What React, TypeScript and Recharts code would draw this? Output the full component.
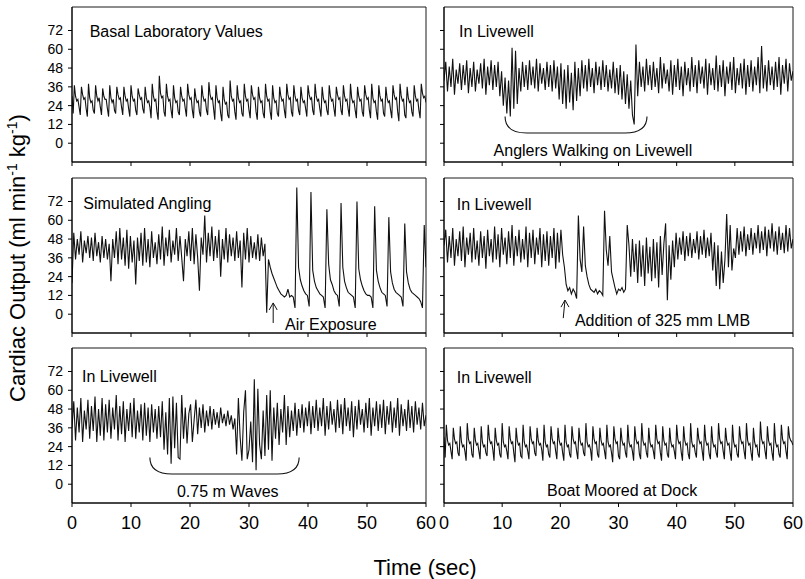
import React from "react";
import { LineChart, Line, XAxis, YAxis, ReferenceArea } from "recharts";

// time axis (sec) and output axis ticks
const timeTicks = [0, 10, 20, 30, 40, 50, 60];
const outputTicks = [0, 12, 24, 36, 48, 60, 72];
const outputDomain = [-12, 87];

// sampling step (sec) of the traced traces
const slowStep = 0.2;
const fastStep = 0.3;

// Basal laboratory values (six samples per beat)
const basalValues = [
  30,
  19, 37, 30, 27, 28, 23, 18, 36, 31, 28, 29, 22, 17, 38, 29, 26, 27, 21,
  19, 37, 30, 27, 29, 23, 18, 35, 30, 28, 28, 22, 17, 37, 29, 26, 28, 21,
  19, 36, 31, 28, 29, 23, 18, 36, 30, 27, 28, 22, 17, 37, 30, 27, 28, 21,
  18, 35, 31, 28, 29, 22, 19, 36, 29, 26, 27, 23, 16, 38, 30, 27, 28, 20,
  15, 43, 32, 29, 30, 20, 17, 38, 30, 27, 28, 21, 16, 37, 29, 26, 27, 20,
  18, 36, 30, 27, 28, 22, 17, 38, 31, 28, 29, 21, 16, 35, 29, 26, 27, 20,
  17, 37, 30, 27, 28, 21, 18, 39, 31, 28, 29, 22, 15, 37, 29, 26, 27, 19,
  14, 36, 28, 25, 26, 18, 16, 40, 30, 27, 28, 20, 15, 37, 29, 26, 27, 19,
  17, 38, 30, 27, 28, 21, 16, 37, 31, 28, 29, 20, 15, 36, 29, 26, 27, 19,
  16, 38, 30, 27, 28, 20, 15, 37, 29, 26, 27, 19, 17, 36, 30, 27, 28, 21,
  16, 38, 31, 28, 29, 20, 17, 37, 30, 27, 28, 21, 18, 36, 29, 26, 27, 22,
  17, 37, 31, 28, 29, 21, 18, 38, 30, 27, 28, 22, 17, 36, 29, 26, 27, 21,
  18, 37, 30, 27, 28, 22, 17, 36, 31, 28, 29, 21, 18, 37, 30, 27, 28, 22,
  17, 38, 29, 26, 27, 21, 16, 36, 30, 27, 28, 20, 17, 37, 31, 28, 29, 21,
  16, 38, 29, 26, 27, 20, 15, 37, 30, 27, 28, 19, 17, 36, 29, 26, 27, 21,
  16, 37, 31, 28, 29, 20, 14, 38, 30, 27, 28, 18, 16, 36, 29, 26, 27, 20,
  17, 37, 30, 27, 28, 21, 16, 38, 32, 29, 30, 26,
];

// In livewell, anglers walking on livewell
const anglersValues = [
  40, 52, 33, 49, 36, 54, 31, 47, 38, 51,
  34, 50, 37, 53, 32, 48, 36, 52, 33, 47,
  38, 51, 35, 54, 31, 49, 37, 53, 34, 50,
  36, 52, 30, 46, 24, 42, 19, 40, 17, 61,
  22, 59, 25, 48, 33, 52, 36, 50, 34, 53,
  37, 49, 35, 54, 33, 51, 38, 48, 34, 52,
  36, 50, 33, 53, 35, 49, 28, 51, 25, 47,
  22, 50, 26, 45, 21, 52, 27, 48, 30, 53,
  35, 50, 33, 54, 36, 48, 32, 52, 37, 49,
  34, 53, 36, 50, 33, 47, 35, 52, 32, 48,
  31, 50, 28, 46, 25, 44, 22, 40, 18, 12,
  63, 30, 52, 36, 49, 33, 54, 37, 50, 34,
  52, 36, 48, 32, 55, 35, 51, 38, 47, 33,
  53, 31, 50, 36, 54, 34, 49, 30, 52, 37,
  48, 33, 55, 36, 50, 32, 53, 38, 49, 35,
  54, 31, 51, 37, 48, 34, 56, 33, 50, 36,
  53, 30, 49, 38, 52, 34, 55, 32, 48, 37,
  51, 35, 54, 31, 50, 36, 53, 33, 49, 37,
  55, 32, 62, 35, 50, 33, 53, 37, 49, 34,
  52, 36, 55, 31, 50, 38, 54, 33, 51, 40,
  46,
];

// Simulated angling, then air exposure
const anglingValues = [
  20, 52, 35, 48, 38, 53, 33, 47, 39, 50,
  36, 49, 34, 52, 37, 46, 33, 50, 36, 48,
  35, 45, 21, 48, 36, 53, 32, 55, 35, 49,
  31, 54, 29, 50, 33, 47, 19, 49, 34, 52,
  31, 55, 33, 48, 30, 53, 36, 46, 32, 51,
  35, 56, 31, 49, 37, 54, 33, 47, 38, 55,
  34, 50, 36, 21, 48, 37, 53, 34, 55, 32,
  51, 36, 15, 49, 38, 63, 33, 52, 37, 56,
  34, 50, 36, 54, 24, 48, 35, 55, 33, 51,
  37, 49, 34, 53, 36, 47, 17, 52, 35, 55,
  33, 50, 36, 46, 35, 51, 34, 49, 37, 45,
  1, 35, 30, 26, 23, 20, 17, 15, 13, 12,
  11, 12, 16, 11, 12, 11, 4, 81, 30, 22,
  18, 15, 13, 12, 5, 78, 28, 21, 17, 15,
  13, 12, 11, 4, 67, 32, 22, 19, 15, 13,
  12, 5, 71, 30, 21, 17, 14, 13, 12, 11,
  4, 72, 29, 22, 18, 15, 13, 12, 12, 11,
  4, 69, 28, 21, 17, 14, 13, 12, 5, 62,
  27, 20, 16, 14, 13, 12, 11, 5, 58, 27,
  20, 16, 14, 13, 12, 11, 10, 8, 4, 57,
  30,
];

// In livewell, addition of 325 mm LMB
const lmbValues = [
  44, 54, 33, 50, 36, 55, 31, 48, 37, 53,
  34, 56, 30, 49, 38, 52, 33, 55, 35, 47,
  31, 53, 36, 50, 29, 54, 37, 48, 33, 56,
  35, 51, 30, 55, 38, 49, 32, 53, 36, 57,
  31, 50, 37, 54, 33, 48, 35, 56, 30, 52,
  36, 54, 32, 49, 38, 55, 30, 51, 34, 53,
  31, 50, 36, 55, 29, 52, 33, 54, 38, 30,
  19, 15, 17, 13, 16, 14, 10, 63, 35, 27,
  56, 31, 24, 19, 16, 15, 14, 16, 13, 15,
  14, 12, 66, 41, 31, 50, 27, 22, 17, 13,
  16, 15, 17, 14, 16, 57, 44, 24, 48, 27,
  45, 20, 47, 24, 44, 18, 49, 26, 43, 21,
  48, 23, 46, 17, 50, 25, 45, 58, 9, 44,
  22, 47, 30, 52, 35, 49, 38, 53, 34, 50,
  37, 52, 36, 48, 39, 53, 35, 50, 38, 54,
  36, 49, 37, 52, 28, 46, 18, 44, 16, 40,
  20, 35, 64, 30, 57, 28, 42, 36, 55, 38,
  53, 40, 56, 37, 51, 41, 55, 38, 52, 42,
  57, 39, 53, 41, 56, 37, 54, 42, 58, 40,
  53, 38, 56, 41, 52, 39, 57, 40, 55, 42,
  48,
];

// In livewell, 0.75 m waves
const wavesValues = [
  36, 53, 28, 49, 33, 55, 27, 47, 35, 54,
  29, 50, 34, 56, 27, 48, 31, 55, 28, 51,
  33, 54, 29, 49, 35, 57, 28, 50, 32, 53,
  27, 48, 34, 52, 30, 55, 29, 47, 33, 51,
  28, 52, 31, 49, 27, 51, 33, 48, 29, 50,
  30, 53, 22, 46, 19, 55, 13, 56, 23, 52,
  17, 16, 57, 29, 49, 26, 45, 51, 27, 41,
  54, 32, 49, 36, 51, 33, 47, 37, 50, 35,
  48, 38, 46, 36, 49, 39, 45, 37, 47, 38,
  44, 35, 42, 19, 55, 30, 15, 46, 60, 16,
  22, 40, 14, 67, 9, 61, 25, 16, 47, 18,
  57, 22, 60, 15, 49, 29, 52, 25, 48, 33,
  57, 25, 50, 30, 47, 34, 52, 31, 48, 36,
  51, 33, 49, 37, 53, 32, 50, 36, 54, 34,
  49, 37, 55, 31, 50, 35, 53, 38, 48, 33,
  54, 36, 51, 32, 55, 37, 49, 34, 53, 30,
  50, 35, 54, 38, 48, 33, 52, 36, 55, 31,
  49, 37, 53, 34, 51, 36, 54, 32, 50, 38,
  53, 33, 49, 36, 55, 31, 51, 37, 48, 34,
  54, 36, 50, 33, 53, 38, 49, 35, 52, 37,
  44,
];

// In livewell, boat moored at dock (six samples per beat)
const dockValues = [
  30,
  17, 38, 28, 25, 26, 21, 16, 36, 29, 26, 27, 20, 18, 37, 27, 24, 25, 21,
  15, 39, 29, 26, 27, 19, 17, 36, 28, 25, 26, 21, 16, 37, 27, 24, 25, 20,
  18, 38, 29, 26, 27, 22, 15, 36, 28, 25, 26, 19, 17, 39, 27, 24, 25, 21,
  16, 37, 29, 26, 27, 20, 14, 36, 28, 25, 26, 18, 17, 38, 27, 24, 25, 21,
  16, 37, 29, 26, 27, 20, 18, 36, 28, 25, 26, 22, 15, 38, 27, 24, 25, 19,
  17, 37, 29, 26, 27, 21, 16, 36, 28, 25, 26, 20, 15, 38, 27, 24, 25, 19,
  17, 37, 29, 26, 27, 21, 16, 36, 28, 25, 26, 20, 18, 39, 27, 24, 25, 22,
  15, 37, 29, 26, 27, 19, 17, 36, 28, 25, 26, 21, 16, 38, 27, 24, 25, 20,
  14, 37, 29, 26, 27, 18, 16, 36, 28, 25, 26, 20, 17, 38, 27, 24, 25, 21,
  15, 37, 29, 26, 27, 19, 16, 39, 28, 25, 26, 20, 17, 36, 27, 24, 25, 21,
  16, 38, 29, 26, 27, 20, 15, 37, 28, 25, 26, 19, 17, 36, 27, 24, 25, 21,
  16, 38, 29, 26, 27, 20, 15, 37, 28, 25, 26, 19, 16, 39, 27, 24, 25, 20,
  17, 36, 29, 26, 27, 21, 15, 38, 28, 25, 26, 19, 16, 37, 27, 24, 25, 20,
  17, 39, 29, 26, 27, 21, 16, 36, 28, 25, 26, 20, 15, 38, 27, 24, 25, 19,
  17, 37, 29, 26, 27, 21, 16, 39, 28, 25, 26, 20, 15, 36, 27, 24, 25, 19,
  17, 40, 29, 26, 27, 21, 16, 37, 28, 25, 26, 20, 15, 39, 27, 24, 25, 19,
  17, 38, 29, 26, 27, 21, 16, 37, 30, 28, 27, 25,
];

const toSeries = (values: number[], step: number) =>
  values.map((v, i) => ({ t: Math.round(i * step * 100) / 100, v }));

// figure geometry
const colLeft = [72, 444];
const colWidth = [354, 349];
const rowTop = [7, 178, 348];
const plotH = 155;
const yAxisW = 40;
const rightPad = 14;
const FONT = "'Liberation Sans', Arial, Helvetica, sans-serif";

const px = (col: number, t: number) => colLeft[col] + (t / 60) * colWidth[col];
const py = (row: number, v: number) =>
  rowTop[row] + ((outputDomain[1] - v) / (outputDomain[1] - outputDomain[0])) * plotH;

function Panel({ values, step, col, row }: { values: number[]; step: number; col: number; row: number }) {
  const data = toSeries(values, step);
  const bottomRow = row === 2;
  const xh = bottomRow ? 36 : 10;
  return (
    <div style={{ position: "absolute", left: colLeft[col] - yAxisW, top: rowTop[row] - 2 }}>
      <LineChart
        width={yAxisW + colWidth[col] + rightPad}
        height={2 + plotH + xh}
        data={data}
        margin={{ top: 2, right: rightPad, bottom: 0, left: 0 }}
      >
        <ReferenceArea x1={0} x2={60} y1={-12} y2={87} fill="none" stroke="#1a1a1a" strokeWidth={1} ifOverflow="visible" />
        <XAxis
          dataKey="t"
          type="number"
          domain={[0, 60]}
          ticks={timeTicks}
          interval={0}
          allowDataOverflow
          height={xh}
          tickSize={4}
          tickMargin={9}
          axisLine={{ stroke: "#000" }}
          tickLine={{ stroke: "#000" }}
          tick={{ fontSize: 18, fill: "#000" }}
          tickFormatter={(t) => (bottomRow ? String(t) : "")}
        />
        <YAxis
          type="number"
          domain={outputDomain}
          ticks={outputTicks}
          interval={0}
          allowDataOverflow
          width={yAxisW}
          tickSize={4}
          tickMargin={5}
          axisLine={{ stroke: "#000" }}
          tickLine={{ stroke: "#000" }}
          tick={{ fontSize: 14, fill: "#000" }}
          tickFormatter={(v) => (col === 0 ? String(v) : "")}
        />
        <Line
          type="linear"
          dataKey="v"
          stroke="#111"
          strokeWidth={1.1}
          dot={false}
          isAnimationActive={false}
        />
      </LineChart>
    </div>
  );
}

function brace(x1: number, x2: number, yTop: number, yBot: number) {
  return `M ${x1} ${yTop} Q ${x1} ${yBot} ${x1 + 22} ${yBot} L ${x2 - 22} ${yBot} Q ${x2} ${yBot} ${x2} ${yTop}`;
}

export default function App() {
  const titleSize = 16;
  return (
    <div
      style={{
        position: "absolute",
        left: 0,
        top: 0,
        width: 805,
        height: 579,
        background: "#fff",
        fontFamily: FONT,
      }}
    >
      <Panel values={basalValues} step={slowStep} col={0} row={0} />
      <Panel values={anglersValues} step={fastStep} col={1} row={0} />
      <Panel values={anglingValues} step={fastStep} col={0} row={1} />
      <Panel values={lmbValues} step={fastStep} col={1} row={1} />
      <Panel values={wavesValues} step={fastStep} col={0} row={2} />
      <Panel values={dockValues} step={slowStep} col={1} row={2} />

      <svg
        width={805}
        height={579}
        style={{ position: "absolute", left: 0, top: 0, pointerEvents: "none", fontFamily: FONT }}
      >
        {/* panel titles */}
        <text x={px(0, 3)} y={py(0, 72) + 7} fontSize={titleSize}>Basal Laboratory Values</text>
        <text x={px(1, 2.6)} y={py(0, 72) + 7} fontSize={titleSize}>In Livewell</text>
        <text x={px(0, 1.9)} y={py(1, 72) + 8} fontSize={titleSize}>Simulated Angling</text>
        <text x={px(1, 2.2)} y={py(1, 72) + 9} fontSize={titleSize}>In Livewell</text>
        <text x={px(0, 1.7)} y={py(2, 72) + 11} fontSize={titleSize}>In Livewell</text>
        <text x={px(1, 2.2)} y={py(2, 72) + 12} fontSize={titleSize}>In Livewell</text>

        {/* anglers walking */}
        <path d={brace(px(1, 10.5), px(1, 34.9), py(0, 17), py(0, 6.5))} fill="none" stroke="#111" strokeWidth={1.1} />
        <text x={px(1, 25.6)} y={py(0, -4.3) + 6} fontSize={titleSize} textAnchor="middle">Anglers Walking on Livewell</text>

        {/* air exposure */}
        <line x1={px(0, 34.1)} y1={py(1, -5.6)} x2={px(0, 34.1)} y2={py(1, 7.2)} stroke="#111" strokeWidth={1} />
        <polyline
          points={`${px(0, 34.1) - 4},${py(1, 7.2) + 7} ${px(0, 34.1)},${py(1, 7.2)} ${px(0, 34.1) + 4},${py(1, 7.2) + 7}`}
          fill="none"
          stroke="#111"
          strokeWidth={1}
        />
        <text x={px(0, 36.1)} y={py(1, -6.2) + 6} fontSize={titleSize}>Air Exposure</text>

        {/* addition of LMB */}
        <line x1={px(1, 20.5)} y1={py(1, -2.5)} x2={px(1, 20.8)} y2={py(1, 9)} stroke="#111" strokeWidth={1} />
        <polyline
          points={`${px(1, 20.8) - 4},${py(1, 9) + 7} ${px(1, 20.8)},${py(1, 9)} ${px(1, 20.8) + 4},${py(1, 9) + 7}`}
          fill="none"
          stroke="#111"
          strokeWidth={1}
        />
        <text x={px(1, 22.5)} y={py(1, -3.8) + 6} fontSize={titleSize}>Addition of 325 mm LMB</text>

        {/* waves */}
        <path d={brace(px(0, 13.2), px(0, 38.5), py(2, 17), py(2, 6.5))} fill="none" stroke="#111" strokeWidth={1.1} />
        <text x={px(0, 26.4)} y={py(2, -4.3) + 6} fontSize={titleSize} textAnchor="middle">0.75 m Waves</text>

        {/* dock */}
        <text x={px(1, 17.7)} y={py(2, -3.7) + 6} fontSize={titleSize}>Boat Moored at Dock</text>

        {/* axis titles */}
        <text transform="translate(25,258) rotate(-90)" fontSize={22} textAnchor="middle">
          Cardiac Output (ml min<tspan dy={-8} fontSize={14}>-1</tspan>
          <tspan dy={8}> kg</tspan>
          <tspan dy={-8} fontSize={14}>-1</tspan>
          <tspan dy={8}>)</tspan>
        </text>
        <text x={425} y={575} fontSize={22} textAnchor="middle">Time (sec)</text>
      </svg>
    </div>
  );
}
